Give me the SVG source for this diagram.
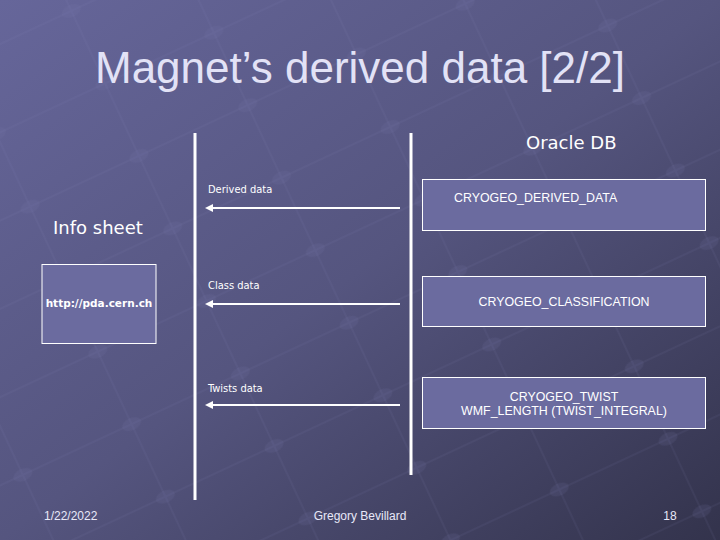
<svg xmlns="http://www.w3.org/2000/svg" width="720" height="540" viewBox="0 0 720 540">
<defs>
<linearGradient id="bg" x1="0" y1="0" x2="1" y2="1">
<stop offset="0" stop-color="#66669a"/>
<stop offset="0.5" stop-color="#55557f"/>
<stop offset="1" stop-color="#33334c"/>
</linearGradient>
<pattern id="tiles" width="120" height="80" patternUnits="userSpaceOnUse" patternTransform="rotate(-25)">
<path d="M0 40 H120 M60 0 V80" stroke="#8a8ab8" stroke-opacity="0.08" stroke-width="2" fill="none"/>
<ellipse cx="60" cy="40" rx="10" ry="6" fill="#7a7aa8" fill-opacity="0.14"/>
</pattern>
<marker id="arr" viewBox="0 0 10 10" refX="0" refY="5" markerWidth="4" markerHeight="4" orient="auto-start-reverse">
<path d="M0 0 L10 5 L0 10 Z" fill="#ffffff"/>
</marker>
<style>
.box{fill:#6b6b9f;stroke:#ffffff;stroke-width:1}
.lbl{font-family:"DejaVu Sans Condensed","DejaVu Sans",sans-serif;font-size:11px;fill:#ffffff}
.tbl{font-family:"Liberation Sans",Arial,sans-serif;font-size:12.4px;fill:#ffffff}
.big{font-family:"DejaVu Sans",Verdana,sans-serif;font-size:18px;fill:#ffffff}
.foot{font-family:"Liberation Sans",Arial,sans-serif;font-size:12px;fill:#e8e8f8}
.conn{stroke:#ffffff;stroke-width:2;fill:none}
.axis{stroke:#ffffff;stroke-width:3;fill:none}
</style>
</defs>
<rect width="720" height="540" fill="url(#bg)"/>
<rect width="720" height="540" fill="url(#tiles)"/>
<text x="360" y="83" text-anchor="middle" font-family="'Liberation Sans',Arial,sans-serif" font-size="44" fill="#e2e2f6">Magnet’s derived data [2/2]</text>

<g id="lifelines">
<line class="axis" x1="195" y1="133" x2="195" y2="500"/>
<line class="axis" x1="411" y1="133" x2="411" y2="475"/>
</g>

<g id="oracle-db"><text class="big" x="526" y="149" font-size="16.5">Oracle DB</text></g>
<g id="info-sheet-label"><text class="big" x="53" y="234">Info sheet</text></g>

<g id="info-sheet">
<rect class="box" x="42" y="264.5" width="114" height="79"/>
<text x="99" y="307" text-anchor="middle" font-family="'DejaVu Sans',Verdana,sans-serif" font-weight="bold" font-size="10.5" fill="#ffffff">http://pda.cern.ch</text>
</g>

<g id="derived-table">
<rect class="box" x="422.5" y="179.5" width="283" height="51"/>
<text class="tbl" x="454" y="202">CRYOGEO_DERIVED_DATA</text>
</g>
<g id="class-table">
<rect class="box" x="422.5" y="276.5" width="283" height="50"/>
<text class="tbl" x="564" y="306" text-anchor="middle">CRYOGEO_CLASSIFICATION</text>
</g>
<g id="twist-table">
<rect class="box" x="422.5" y="377.5" width="283" height="51"/>
<text class="tbl" x="564" y="401" text-anchor="middle">CRYOGEO_TWIST</text>
<text class="tbl" x="564" y="415" text-anchor="middle">WMF_LENGTH (TWIST_INTEGRAL)</text>
</g>

<g id="connectors">
<line class="conn" x1="400" y1="208" x2="213" y2="208" marker-end="url(#arr)"/>
<text class="lbl" x="208" y="193">Derived data</text>
<line class="conn" x1="400" y1="304" x2="213" y2="304" marker-end="url(#arr)"/>
<text class="lbl" x="208" y="289">Class data</text>
<line class="conn" x1="400" y1="405" x2="213" y2="405" marker-end="url(#arr)"/>
<text class="lbl" x="208" y="392">Twists data</text>
</g>

<g id="footer">
<text class="foot" x="44" y="520">1/22/2022</text>
<text class="foot" x="360" y="520" text-anchor="middle">Gregory Bevillard</text>
<text class="foot" x="670" y="520" text-anchor="middle">18</text>
</g>
</svg>
